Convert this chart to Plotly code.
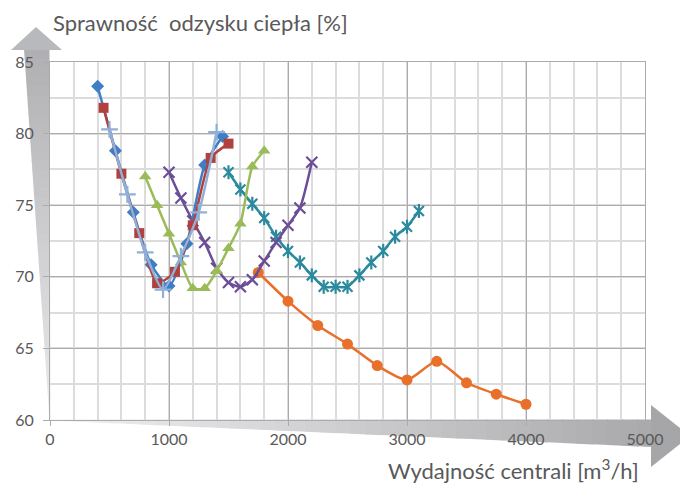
import plotly.graph_objects as go

# ---------------- data ----------------
blue_x = [400, 550, 700, 850, 1000, 1150, 1300, 1450]
blue_y = [83.3, 78.8, 74.5, 70.85, 69.35, 72.3, 77.8, 79.8]

red_x = [450, 600, 750, 900, 1050, 1200, 1350, 1500]
red_y = [81.8, 77.2, 73.05, 69.55, 70.35, 73.6, 78.3, 79.3]

plus_x = [500, 650, 800, 950, 1100, 1250, 1400]
plus_y = [80.3, 75.75, 71.7, 69.1, 71.45, 74.5, 80.1]

green_x = [800, 900, 1000, 1100, 1200, 1300, 1400, 1500, 1600, 1700, 1800]
green_y = [77.0, 75.0, 73.0, 71.0, 69.2, 69.2, 70.4, 72.0, 73.7, 77.7, 78.8]

purple_x = [1000, 1100, 1200, 1300, 1400, 1500, 1600, 1700, 1800, 1900, 2000, 2100, 2200]
purple_y = [77.3, 75.5, 73.9, 72.4, 70.6, 69.6, 69.3, 69.8, 71.1, 72.4, 73.6, 74.8, 78.0]

teal_x = [1500, 1600, 1700, 1800, 1900, 2000, 2100, 2200, 2300, 2400, 2500,
          2600, 2700, 2800, 2900, 3000, 3100]
teal_y = [77.3, 76.1, 75.1, 74.1, 72.8, 71.8, 71.0, 70.1, 69.3, 69.3, 69.3,
          70.1, 71.0, 71.8, 72.8, 73.5, 74.6]

orange_x = [1750, 2000, 2250, 2500, 2750, 3000, 3250, 3500, 3750, 4000]
orange_y = [70.3, 68.3, 66.6, 65.3, 63.8, 62.8, 64.1, 62.6, 61.8, 61.1]

x_ticks = [0, 1000, 2000, 3000, 4000, 5000]
y_ticks = [60, 65, 70, 75, 80, 85]

y_title = "Sprawność\u00a0 odzysku ciepła [%]"
x_title = "Wydajność centrali [m<sup>3</sup>/h]"

# ---------------- layout geometry ----------------
W, H = 680, 495
ML, MR, MT, MB = 50, 35, 62, 75
PW, PH = W - ML - MR, H - MT - MB


def px(x):
    return (x - ML) / PW


def py(y):
    return (H - MB - y) / PH


FONT = "Lato, 'Open Sans', sans-serif"
GRAY_TXT = "#595959"

fig = go.Figure()

LW = 2.5
fig.add_trace(go.Scatter(x=orange_x, y=orange_y, mode="lines+markers",
                         line=dict(color="#E8702A", width=LW, shape="spline", smoothing=0.6),
                         marker=dict(symbol="circle", size=11, color="#E8702A")))
fig.add_trace(go.Scatter(x=teal_x, y=teal_y, mode="lines+markers",
                         line=dict(color="#2B8A9E", width=LW, shape="spline", smoothing=0.6),
                         marker=dict(symbol="x-thin", size=10,
                                     line=dict(color="#2B8A9E", width=2.2))))
fig.add_trace(go.Scatter(x=teal_x, y=teal_y, mode="markers",
                         marker=dict(symbol="line-ns", size=10,
                                     line=dict(color="#2B8A9E", width=2.2))))
fig.add_trace(go.Scatter(x=purple_x, y=purple_y, mode="lines+markers",
                         line=dict(color="#6B4E96", width=LW, shape="spline", smoothing=0.6),
                         marker=dict(symbol="x-thin", size=11,
                                     line=dict(color="#6B4E96", width=2.2))))
fig.add_trace(go.Scatter(x=green_x, y=green_y, mode="lines+markers",
                         line=dict(color="#9BBB59", width=LW, shape="spline", smoothing=0.6),
                         marker=dict(symbol="triangle-up", size=11, color="#9BBB59")))
fig.add_trace(go.Scatter(x=blue_x, y=blue_y, mode="lines+markers",
                         line=dict(color="#3F7EC6", width=LW, shape="spline", smoothing=0.6),
                         marker=dict(symbol="diamond", size=10, color="#3F7EC6")))
fig.add_trace(go.Scatter(x=red_x, y=red_y, mode="lines+markers",
                         line=dict(color="#B0413E", width=LW, shape="spline", smoothing=0.6),
                         marker=dict(symbol="square", size=10, color="#B0413E")))
fig.add_trace(go.Scatter(x=plus_x, y=plus_y, mode="lines+markers",
                         line=dict(color="#8FB0D8", width=LW, shape="spline", smoothing=0.6),
                         marker=dict(symbol="cross-thin", size=12,
                                     line=dict(color="#8FB0D8", width=2.2))))

# ---------------- decorative gradient arrows ----------------
shapes = []


def lerp(a, b, t):
    return a + (b - a) * t


def gray(t, c0, c1):
    v = int(round(lerp(c0, c1, t)))
    return f"rgb({v},{v},{min(255, v + 3)})"


# vertical arrow (left), shaft tapering to a point at the origin
N = 40
top_y, bot_y = 49, 420
for i in range(N):
    t0, t1 = i / N, (i + 1) / N
    ya, yb = lerp(top_y, bot_y, t0), lerp(top_y, bot_y, t1 + 0.002)
    xla, xlb = lerp(24, 49.5, t0), lerp(24, 49.5, min(1, t1 + 0.002))
    xra, xrb = lerp(49.5, 50.5, t0), lerp(49.5, 50.5, t1)
    path = (f"M {px(xla)} {py(ya)} L {px(xra)} {py(ya)} "
            f"L {px(xrb)} {py(yb)} L {px(xlb)} {py(yb)} Z")
    shapes.append(dict(type="path", xref="paper", yref="paper", path=path,
                       fillcolor=gray(t0, 176, 236), line=dict(width=0), layer="below"))
shapes.append(dict(type="path", xref="paper", yref="paper",
                   path=f"M {px(36)} {py(27)} L {px(62)} {py(50)} L {px(11)} {py(50)} Z",
                   fillcolor="rgb(184,185,188)", line=dict(width=0), layer="below"))

# horizontal arrow (bottom), shaft widening to the right
x0, x1 = 50, 652
for i in range(N):
    t0, t1 = i / N, (i + 1) / N
    xa, xb = lerp(x0, x1, t0), lerp(x0, x1, min(1, t1 + 0.002))
    yba, ybb = lerp(420.5, 447, t0), lerp(420.5, 447, min(1, t1 + 0.002))
    path = (f"M {px(xa)} {py(419.5)} L {px(xb)} {py(419.5)} "
            f"L {px(xb)} {py(ybb)} L {px(xa)} {py(yba)} Z")
    shapes.append(dict(type="path", xref="paper", yref="paper", path=path,
                       fillcolor=gray(t0, 240, 168), line=dict(width=0), layer="below"))
shapes.append(dict(type="path", xref="paper", yref="paper",
                   path=f"M {px(651)} {py(405)} L {px(690)} {py(436)} L {px(651)} {py(467)} Z",
                   fillcolor="rgb(166,166,168)", line=dict(width=0), layer="below"))

annotations = [
    dict(text=y_title, xref="paper", yref="paper", x=px(51), y=py(23),
         xanchor="left", yanchor="middle", showarrow=False,
         font=dict(family=FONT, size=22, color=GRAY_TXT)),
    dict(text=x_title, xref="paper", yref="paper", x=px(641), y=py(470),
         xanchor="right", yanchor="middle", showarrow=False,
         font=dict(family=FONT, size=22, color=GRAY_TXT)),
]

AX = "#ABABAB"
fig.update_layout(
    width=W, height=H,
    margin=dict(l=ML, r=MR, t=MT, b=MB, pad=0, autoexpand=False),
    paper_bgcolor="white", plot_bgcolor="rgba(0,0,0,0)",
    showlegend=False,
    shapes=shapes, annotations=annotations,
    xaxis=dict(range=[0, 5000], tickvals=x_ticks, ticktext=[str(v) for v in x_ticks],
               automargin=False,
               showgrid=True, gridcolor=AX, gridwidth=1,
               minor=dict(dtick=200, showgrid=True, gridcolor="#DCDCDC", gridwidth=1.5),
               zeroline=False, showline=True, linecolor=AX, mirror=True,
               ticks="outside", ticklen=5, tickcolor=AX,
               tickfont=dict(family=FONT, size=16, color=GRAY_TXT)),
    yaxis=dict(range=[60, 85], tickvals=y_ticks, ticktext=[str(v) for v in y_ticks],
               automargin=False,
               showgrid=True, gridcolor=AX, gridwidth=1,
               minor=dict(dtick=2.5, showgrid=True, gridcolor="#DCDCDC", gridwidth=1.5),
               zeroline=False, showline=True, linecolor=AX, mirror=True,
               ticks="outside", ticklen=6, tickcolor=AX, ticklabelstandoff=6,
               tickfont=dict(family=FONT, size=16, color=GRAY_TXT)),
)

fig.write_html("out.html", config={"displayModeBar": False},
               post_script="document.body.style.margin='0';document.body.style.padding='0';")
